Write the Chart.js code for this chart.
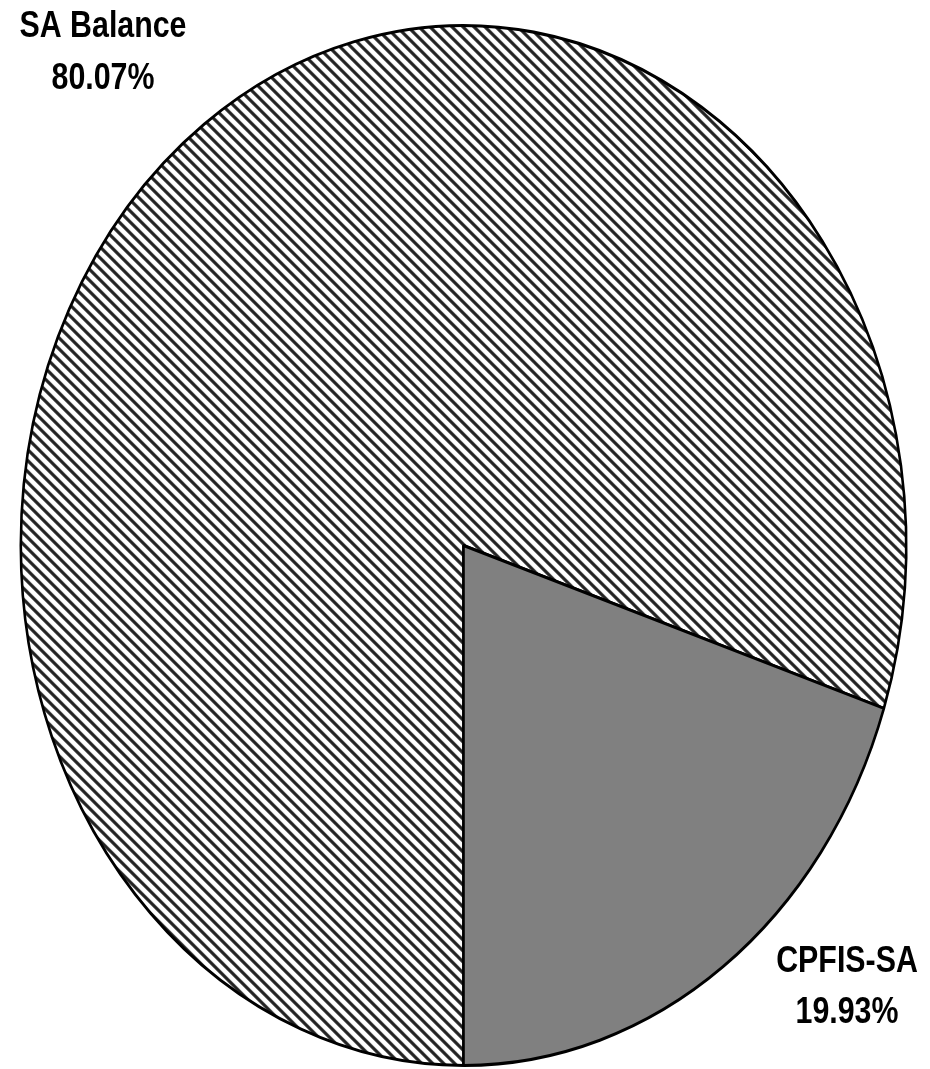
<!DOCTYPE html>
<html>
<head>
<meta charset="utf-8">
<script src="https://cdn.jsdelivr.net/npm/chart.js@4.4.1/dist/chart.umd.min.js"></script>
<style>
    html, body { margin: 0; padding: 0; background: #fff; }
    #wrap { position: relative; width: 930px; height: 1069px; }
</style>
</head>
<body>
<div id="wrap"><canvas id="splitChart" width="930" height="1069"></canvas></div>
<script>
// --- SA split: balance vs CPFIS ---
const labels = ['SA Balance', 'CPFIS-SA'];
const shares = [80.07, 19.93];
// where each label block is centred (x) and its two baselines (y)
const labelSpots = [
    { x: 103, y1: 37, y2: 89 },
    { x: 847, y1: 972, y2: 1023 }
];

const STRETCH_Y = 1.1745; // pie is drawn as an upright ellipse
const LABEL_FONT = 'bold 37px "Liberation Sans", Arial, sans-serif';
const NARROW = 0.82; // squeeze labels to a narrow face

// diagonal hatch fill
function makeHatch() {
    const n = 11;
    const t = document.createElement('canvas');
    t.width = n; t.height = n;
    const c = t.getContext('2d');
    c.fillStyle = '#fff';
    c.fillRect(0, 0, n, n);
    c.strokeStyle = '#222';
    c.lineWidth = 3.2;
    c.beginPath();
    c.moveTo(-3, -3); c.lineTo(n + 3, n + 3);
    c.moveTo(-3, n - 3); c.lineTo(3, n + 3);
    c.moveTo(n - 3, -3); c.lineTo(n + 3, 3);
    c.stroke();
    const ctx = document.getElementById('splitChart').getContext('2d');
    return ctx.createPattern(t, 'repeat');
}

const hatch = makeHatch();

const stretchPlugin = {
    id: 'stretchPie',
    beforeDatasetsDraw(chart) {
        const a = chart.chartArea;
        const cx = (a.left + a.right) / 2;
        const cy = (a.top + a.bottom) / 2;
        const ctx = chart.ctx;
        ctx.save();
        ctx.translate(cx, cy);
        ctx.scale(1, STRETCH_Y);
        ctx.translate(-cx, -cy);
        // keep hatch undistorted under the stretch
        if (hatch.setTransform) hatch.setTransform(new DOMMatrix().scale(1, 1 / STRETCH_Y));
    },
    afterDatasetsDraw(chart) {
        chart.ctx.restore();
    },
    afterDraw(chart) {
        const ctx = chart.ctx;
        ctx.save();
        ctx.font = LABEL_FONT;
        ctx.fillStyle = '#000';
        ctx.textAlign = 'center';
        ctx.textBaseline = 'alphabetic';
        labels.forEach((name, i) => {
            const s = labelSpots[i];
            ctx.save();
            ctx.translate(s.x, 0);
            ctx.scale(NARROW, 1);
            ctx.fillText(name, 0, s.y1);
            ctx.fillText(shares[i].toFixed(2) + '%', 0, s.y2);
            ctx.restore();
        });
        ctx.restore();
    }
};

new Chart(document.getElementById('splitChart'), {
    type: 'pie',
    data: {
        labels: labels,
        datasets: [{
            data: shares,
            backgroundColor: [hatch, '#808080'],
            borderColor: '#000',
            borderWidth: 2.6,
            hoverOffset: 0
        }]
    },
    options: {
        responsive: false,
        animation: false,
        rotation: 180,
        layout: { padding: { left: 19.5, right: 22.5, top: 101.5, bottom: 79.5 } },
        plugins: {
            legend: { display: false },
            tooltip: { enabled: false }
        }
    },
    plugins: [stretchPlugin]
});
</script>
</body>
</html>
